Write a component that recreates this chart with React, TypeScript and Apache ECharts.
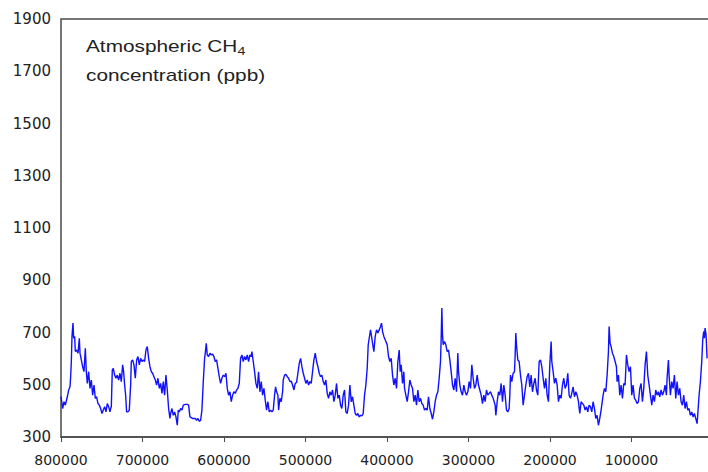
import React, { useEffect, useRef } from "react";
import * as echarts from "echarts";

// Y axis extent / tick step (ppb)
const yMin = 300;
const yMax = 1900;
const yStep = 200;
// X axis: years before present (reversed)
const xMin = 0;
const xMax = 800000;
const xStep = 100000;

// Atmospheric CH4 (ppb) vs age (years BP)
const ch4_800k_666k: [number, number][] = [
  [800000, 455], [797960, 409], [796320, 435], [794690, 422], [792230, 454], [790600, 480], [788960, 492],
  [788150, 531], [787330, 589], [786510, 685], [785280, 736], [784470, 678], [783240, 685], [782420, 627],
  [780790, 633], [779150, 621], [777520, 678], [776700, 621], [775060, 595], [773430, 569], [771790, 550],
  [770160, 640], [768930, 550], [767710, 505], [766070, 550], [764440, 486], [762800, 518], [761170, 460],
  [759530, 499], [757890, 448], [756260, 454], [754620, 428], [752990, 422], [751350, 409], [749720, 390],
  [748080, 403], [746450, 416], [744810, 396], [743180, 428], [741540, 416], [739910, 396], [739090, 409],
  [738270, 416], [737050, 557], [735820, 563], [734180, 537], [732550, 525], [730910, 537], [729280, 518],
  [727640, 544], [726010, 512], [724370, 576], [723150, 550], [721920, 499], [720690, 460], [719470, 396],
  [717830, 396], [716200, 403], [714560, 499], [713740, 589], [712110, 595], [710470, 576], [708840, 525],
  [707200, 595], [705570, 608], [703930, 576], [702300, 601], [700660, 589], [699030, 595], [697390, 589],
  [695760, 633], [694120, 646], [692490, 601], [690850, 569], [689220, 550], [687580, 544], [685950, 531],
  [684310, 518], [682680, 499], [681040, 525], [679410, 486], [677770, 505], [676130, 467], [674500, 512],
  [672860, 460], [671230, 537], [669590, 480], [667960, 409], [666320, 371],
];

const ch4_666k_538k: [number, number][] = [
  [665490, 390], [663860, 409], [662220, 383], [660590, 396], [658950, 377], [657320, 345], [656090, 403],
  [654870, 396], [653230, 409], [651600, 403], [649960, 422], [647510, 425], [645050, 425], [643420, 422],
  [641780, 377], [638510, 371], [635240, 371], [633610, 364], [631970, 371], [630340, 360], [628700, 364],
  [627070, 403], [625430, 512], [623800, 601], [622980, 621], [621750, 659], [620530, 614], [618890, 608],
  [617260, 621], [615620, 614], [613990, 617], [612350, 608], [610710, 589], [609080, 595], [607440, 563],
  [605810, 531], [604170, 505], [602540, 525], [600900, 537], [599270, 531], [597630, 544], [596000, 486],
  [594360, 460], [592730, 473], [591090, 435], [589460, 460], [587820, 473], [586190, 467], [584550, 480],
  [582920, 486], [581280, 505], [579650, 601], [578010, 614], [576380, 589], [574740, 608], [573110, 595],
  [571470, 614], [569830, 589], [568200, 614], [566560, 608], [565750, 627], [564110, 589], [562480, 550],
  [560840, 505], [559210, 486], [557570, 550], [555940, 473], [554300, 512], [552670, 460], [551030, 486],
  [549400, 441], [547760, 403], [546120, 435], [544490, 396], [542850, 403], [541220, 396], [539580, 403],
  [537950, 460],
];

const ch4_537k_404k: [number, number][] = [
  [536710, 492], [535490, 473], [533850, 460], [533030, 403], [531400, 448], [529760, 435], [528130, 473],
  [527310, 518], [525670, 537], [524040, 540], [522400, 531], [520770, 525], [519130, 512], [517500, 514],
  [515860, 499], [514230, 480], [512590, 505], [510960, 509], [509320, 544], [507690, 582], [506050, 601],
  [504420, 569], [502780, 544], [501150, 525], [499510, 505], [497880, 518], [496240, 499], [494610, 512],
  [492970, 505], [491330, 550], [489700, 595], [488060, 621], [486430, 589], [484790, 569], [483160, 544],
  [481520, 531], [479890, 537], [478250, 512], [476620, 499], [474980, 518], [473350, 467], [471710, 448],
  [470080, 473], [468440, 460], [466810, 480], [465170, 435], [463540, 460], [461900, 505], [460270, 448],
  [458630, 460], [457000, 422], [455360, 409], [453730, 460], [452090, 480], [450450, 396], [448820, 390],
  [447180, 422], [445550, 499], [443910, 435], [442280, 454], [440640, 422], [439010, 390], [437370, 383],
  [435740, 390], [434100, 377], [432470, 383], [430830, 381], [429200, 390], [427560, 460], [425930, 499],
  [424290, 563], [423060, 653], [421840, 678], [420200, 710], [418980, 685], [417750, 659], [416120, 627],
  [414480, 685], [412850, 710], [411210, 698], [409570, 710], [407940, 723], [406710, 736], [405490, 704],
  [403850, 685],
];

const ch4_400k_270k: [number, number][] = [
  [399750, 653], [398120, 608], [396480, 589], [394850, 601], [393210, 537], [391580, 499], [389940, 525],
  [388310, 486], [386670, 589], [385040, 633], [383810, 550], [382580, 576], [380950, 505], [379310, 550],
  [378500, 486], [376860, 460], [375220, 435], [373590, 473], [371950, 518], [370320, 499], [368680, 486],
  [367050, 435], [365410, 460], [363780, 422], [362140, 480], [360510, 435], [358870, 448], [357240, 428],
  [355600, 422], [353970, 403], [352330, 409], [350700, 403], [349060, 454], [347430, 409], [345790, 390],
  [344160, 368], [342520, 396], [340890, 435], [339250, 460], [337610, 473], [335980, 525], [334340, 589],
  [333530, 678], [332710, 794], [331890, 691], [331070, 653], [329440, 665], [327800, 653], [326170, 627],
  [324530, 633], [322900, 595], [321260, 550], [319630, 499], [317990, 480], [316360, 525], [314720, 473],
  [313090, 621], [312270, 550], [310630, 499], [309000, 473], [307360, 460], [305730, 499], [304090, 473],
  [302460, 460], [300820, 473], [299190, 512], [297550, 486], [295920, 576], [294280, 525], [292650, 486],
  [291010, 499], [289380, 537], [287740, 499], [286110, 480], [284470, 460], [282840, 428], [281200, 460],
  [279570, 435], [277930, 480], [276290, 460], [274660, 467], [273020, 473], [271390, 460], [269750, 448],
];

const ch4_268k_137k: [number, number][] = [
  [267290, 422], [266470, 383], [264840, 435], [263200, 473], [261570, 460], [259930, 505], [258300, 435],
  [256660, 499], [255030, 460], [253390, 403], [251760, 396], [250120, 409], [249300, 460], [248490, 537],
  [246850, 512], [245220, 544], [243580, 550], [242760, 614], [241950, 698], [241130, 653], [239490, 595],
  [237860, 589], [236220, 537], [234590, 499], [232950, 422], [231320, 460], [229680, 499], [228050, 531],
  [226410, 544], [224780, 492], [223140, 537], [221510, 473], [219870, 505], [218230, 525], [216600, 480],
  [214960, 460], [213330, 589], [211690, 595], [210060, 569], [208420, 525], [206790, 486], [205150, 525],
  [203520, 460], [201880, 435], [200250, 576], [198610, 665], [197790, 589], [196160, 550], [194520, 505],
  [192890, 525], [191250, 499], [189620, 435], [187980, 460], [186350, 448], [184710, 499], [183080, 525],
  [181440, 486], [179810, 499], [178170, 544], [176540, 460], [174900, 448], [173270, 467], [171630, 492],
  [170000, 454], [168360, 473], [166730, 460], [165090, 435], [163460, 390], [161820, 435], [160190, 428],
  [158550, 422], [156910, 403], [155280, 416], [153640, 396], [152010, 422], [150370, 416], [148740, 396],
  [147100, 435], [145470, 409], [143830, 371], [142200, 383], [140560, 345], [138930, 371], [137290, 403],
];

const ch4_135k_7k: [number, number][] = [
  [134830, 460], [133190, 486], [131560, 473], [129920, 537], [128290, 627], [127470, 723], [126240, 659],
  [125020, 646], [123380, 621], [121750, 608], [120110, 589], [118480, 569], [117660, 512], [116020, 537],
  [114390, 460], [112750, 499], [111120, 448], [109480, 505], [107850, 499], [106210, 614], [104580, 576],
  [102940, 550], [101310, 569], [99670, 460], [98040, 499], [96400, 448], [94770, 441], [93130, 428],
  [91500, 435], [89860, 486], [88230, 505], [86590, 435], [84960, 486], [83320, 576], [81680, 627],
  [80050, 537], [78410, 499], [76780, 460], [75140, 422], [73510, 460], [71870, 435], [70240, 480],
  [68600, 460], [66970, 473], [65330, 454], [63700, 480], [62060, 460], [60430, 473], [58790, 499],
  [57160, 460], [56340, 525], [54700, 595], [53890, 537], [52250, 460], [50620, 512], [48980, 486],
  [47350, 537], [45710, 448], [44080, 512], [42440, 460], [40800, 486], [39170, 435], [37530, 422],
  [35900, 460], [34260, 409], [32630, 435], [30990, 403], [29360, 409], [27720, 383], [26090, 396],
  [24450, 377], [22820, 390], [21180, 371], [19550, 351], [18730, 383], [17090, 460], [15460, 512],
  [13820, 589], [12600, 672], [11370, 704], [10550, 678], [9740, 717], [8510, 691], [7280, 601],
];

const ch4Record = [
  ...ch4_800k_666k,
  ...ch4_666k_538k,
  ...ch4_537k_404k,
  ...ch4_400k_270k,
  ...ch4_268k_137k,
  ...ch4_135k_7k,
];

export default function App() {
  const ref = useRef<HTMLDivElement>(null);

  useEffect(() => {
    if (!ref.current) return;
    const chart = echarts.init(ref.current, null, { renderer: "svg" });
    const axisColor = "#4a4a4a";
    const labelColor = "#222222";
    chart.setOption({
      animation: false,
      backgroundColor: "#ffffff",
      grid: {
        left: 61,
        top: 19,
        right: -5,
        bottom: 35,
        outerBoundsMode: "none",
        containLabel: false,
        show: true,
        borderColor: axisColor,
        borderWidth: 1.5,
        backgroundColor: "transparent",
      },
      xAxis: {
        type: "value",
        inverse: true,
        min: xMin,
        max: xMax,
        interval: xStep,
        axisLine: { show: true, lineStyle: { color: axisColor, width: 1.5 } },
        axisTick: { show: true, length: 5, lineStyle: { color: axisColor, width: 1 } },
        axisLabel: {
          margin: 16,
          fontFamily: "DejaVu Sans",
          fontSize: 14,
          color: labelColor,
          formatter: (v: number) => (v === 0 ? "" : String(v)),
        },
        splitLine: { show: false },
      },
      yAxis: {
        type: "value",
        min: yMin,
        max: yMax,
        interval: yStep,
        axisLine: { show: true, lineStyle: { color: axisColor, width: 1.5 } },
        axisTick: { show: true, length: 4, lineStyle: { color: axisColor, width: 1 } },
        minorTick: { show: true, splitNumber: 5, length: 3, lineStyle: { color: axisColor, width: 1 } },
        axisLabel: {
          margin: 10,
          fontFamily: "DejaVu Sans",
          fontSize: 15,
          color: labelColor,
          formatter: (v: number) => String(v),
        },
        splitLine: { show: false },
      },
      series: [
        {
          type: "line",
          data: ch4Record,
          symbol: "none",
          lineStyle: { color: "#1010ff", width: 1.4 },
        },
      ],
      graphic: [
        {
          type: "text",
          x: 86,
          y: 32,
          scaleX: 1.3,
          style: {
            text: "{a|Atmospheric CH}{s|4}\n{a|concentration (ppb)}",
            x: 0,
            y: 0,
            verticalAlign: "top",
            rich: {
              a: { fontSize: 16, fontFamily: "Liberation Sans", fill: "#222222", lineHeight: 29 },
              s: {
                fontSize: 11,
                fontFamily: "Liberation Sans",
                fill: "#222222",
                lineHeight: 29,
                padding: [9, 0, 0, 0],
              },
            },
          },
        },
      ],
    });
    return () => chart.dispose();
  }, []);

  return (
    <div
      ref={ref}
      style={{ position: "fixed", left: 0, top: 0, width: 708, height: 472, background: "#ffffff" }}
    />
  );
}
